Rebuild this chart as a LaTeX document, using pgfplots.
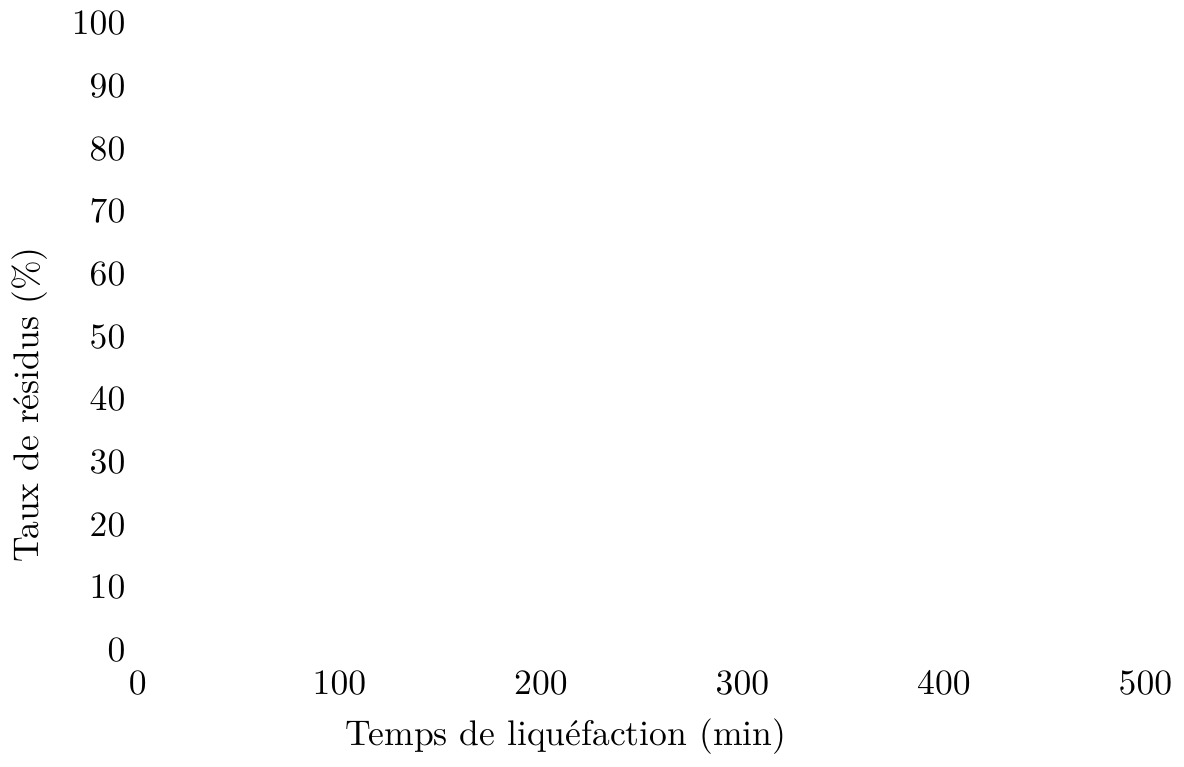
\documentclass[border=0pt]{standalone}
\usepackage{pgfplots}
\pgfplotsset{compat=1.18}
\begin{document}
\begin{tikzpicture}
\begin{axis}[
  scale only axis,
  width=283pt, height=176pt,
  xmin=0, xmax=500, ymin=0, ymax=100,
  xtick={0,100,200,300,400,500},
  ytick={0,10,20,30,40,50,60,70,80,90,100},
  axis line style={draw=none},
  tick style={draw=none},
  x tick label style={yshift=-2.5pt},
  xlabel={Temps de liquéfaction (min)},
  ylabel={Taux de résidus (\%)},
  xlabel style={at={(ticklabel cs:0.425)}},
  ylabel style={at={(ticklabel cs:0.391)}},
]
\addplot[draw=none] coordinates {(0,0)};
\end{axis}
\end{tikzpicture}
\end{document}
